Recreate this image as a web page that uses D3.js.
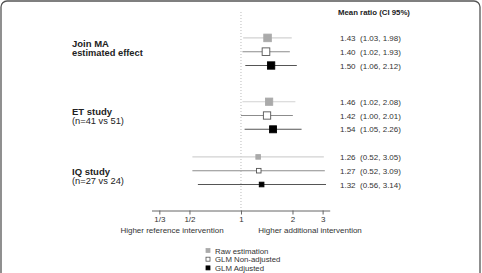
<!DOCTYPE html>
<html>
<head>
<meta charset="utf-8">
<script src="https://cdn.jsdelivr.net/npm/d3@7"></script>
<style>
  body { margin: 0; background: #fff; }
  svg text { font-family: "Liberation Sans", Arial, sans-serif; }
</style>
</head>
<body>
<div id="chart"></div>
<script>
// data
var groups = ["Join MA", "ET study", "IQ study"];
var groupSub = ["estimated effect", "(n=41 vs 51)", "(n=27 vs 24)"];
var series = ["Raw estimation", "GLM Non-adjusted", "GLM Adjusted"];
var meanRaw = [1.43, 1.46, 1.26], loRaw = [1.03, 1.02, 0.52], hiRaw = [1.98, 2.08, 3.05];
var meanNon = [1.40, 1.42, 1.27], loNon = [1.02, 1.00, 0.52], hiNon = [1.93, 2.01, 3.09];
var meanAdj = [1.50, 1.54, 1.32], loAdj = [1.06, 1.05, 0.56], hiAdj = [2.12, 2.26, 3.14];
var tickValues = [1/3, 1/2, 1, 2, 3];
var tickLabels = ["1/3", "1/2", "1", "2", "3"];

var width = 482, height = 273;

var svg = d3.select("#chart")
  .append("svg")
    .attr("width", width)
    .attr("height", height);

// frame
svg.append("rect")
  .attr("x", 1).attr("y", 1)
  .attr("width", 479).attr("height", 290)
  .attr("rx", 6)
  .attr("fill", "none")
  .attr("stroke", "#555")
  .attr("stroke-width", 1.3);

var x = d3.scaleLog().domain([0.3, 3.3]).range([151.5, 329.7]);
var yGroup = d3.scaleOrdinal().domain(groups).range([51.7, 115.5, 170.7]);
var ySeries = d3.scalePoint().domain(series).range([-13.8, 13.8]);

var style = {
  "Raw estimation":   {line: "#d2d2d2", fill: "#aaaaaa", stroke: "#aaaaaa"},
  "GLM Non-adjusted": {line: "#8c8c8c", fill: "#ffffff", stroke: "#555"},
  "GLM Adjusted":     {line: "#555555", fill: "#000000", stroke: "#000"}
};

var rows = [];
var src = [[meanRaw, loRaw, hiRaw], [meanNon, loNon, hiNon], [meanAdj, loAdj, hiAdj]];
groups.forEach(function(g, i){
  series.forEach(function(s, j){
    rows.push({group: g, key: s, mean: src[j][0][i], lo: src[j][1][i], hi: src[j][2][i]});
  });
});

// square size weighted by precision
var size = d3.scaleSqrt().domain([0, 1.55]).range([0, 7.6]);

// reference line at 1
svg.append("line")
  .attr("x1", x(1)).attr("x2", x(1))
  .attr("y1", 12).attr("y2", 210.5)
  .attr("stroke", "#bbb")
  .attr("stroke-dasharray", "1,2");

// x axis
var axis = svg.append("g")
  .attr("transform", "translate(0,210.5)")
  .call(d3.axisBottom(x)
    .tickValues(tickValues)
    .tickFormat(function(d, i){ return tickLabels[i]; })
    .tickSize(4)
    .tickSizeOuter(0));
axis.select(".domain").attr("stroke", "#666");
axis.selectAll(".tick line").attr("stroke", "#666");
axis.selectAll(".tick text")
  .attr("fill", "#333")
  .attr("font-size", "8px")
  .attr("font-family", "Liberation Sans, Arial, sans-serif")
  .attr("dy", "0.55em");

svg.append("text")
  .attr("x", 172).attr("y", 232.5)
  .attr("text-anchor", "middle")
  .attr("font-size", "8px").attr("fill", "#333")
  .text("Higher reference intervention");
svg.append("text")
  .attr("x", 310).attr("y", 232.5)
  .attr("text-anchor", "middle")
  .attr("font-size", "8px").attr("fill", "#333")
  .text("Higher additional intervention");

// CI lines
svg.append("g").selectAll("line")
  .data(rows).enter().append("line")
    .attr("x1", function(d){ return x(d.lo); })
    .attr("x2", function(d){ return x(d.hi); })
    .attr("y1", function(d){ return yGroup(d.group) + ySeries(d.key); })
    .attr("y2", function(d){ return yGroup(d.group) + ySeries(d.key); })
    .attr("stroke", function(d){ return style[d.key].line; })
    .attr("stroke-width", 1.1);

// squares
svg.append("g").selectAll("rect")
  .data(rows).enter().append("rect")
    .attr("x", function(d){ return x(d.mean) - s(d) / 2; })
    .attr("y", function(d){ return yGroup(d.group) + ySeries(d.key) - s(d) / 2; })
    .attr("width", function(d){ return s(d); })
    .attr("height", function(d){ return s(d); })
    .attr("fill", function(d){ return style[d.key].fill; })
    .attr("stroke", function(d){ return style[d.key].stroke; })
    .attr("stroke-width", 0.9);

function s(d){ return size(1 / Math.log(d.hi / d.lo)); }

// value text
svg.append("text")
  .attr("x", 338).attr("y", 14.5)
  .attr("font-size", "7.8px").attr("font-weight", "bold").attr("fill", "#222")
  .text("Mean ratio (CI 95%)");

svg.append("g").selectAll("text")
  .data(rows).enter().append("text")
    .attr("x", 340)
    .attr("y", function(d){ return yGroup(d.group) + ySeries(d.key) + 3; })
    .attr("font-size", "8px").attr("fill", "#333")
    .attr("xml:space", "preserve")
    .text(function(d){
      return d.mean.toFixed(2) + "  (" + d.lo.toFixed(2) + ", " + d.hi.toFixed(2) + ")";
    });

// group labels
var labelY = d3.scaleOrdinal().domain(groups).range([47, 115.3, 174.7]);
groups.forEach(function(g, i){
  svg.append("text")
    .attr("x", 72).attr("y", labelY(g))
    .attr("font-size", "9.5px").attr("font-weight", "bold").attr("fill", "#222")
    .text(g);
  svg.append("text")
    .attr("x", 72).attr("y", labelY(g) + 9)
    .attr("font-size", "9.3px").attr("fill", "#222")
    .attr("font-weight", i === 0 ? "bold" : "normal")
    .text(groupSub[i]);
});

// legend
var legend = svg.append("g").selectAll("g")
  .data(series).enter().append("g")
    .attr("transform", function(d, i){ return "translate(208," + (250.5 + i * 8.7) + ")"; });
legend.append("rect")
  .attr("x", -2).attr("y", -2)
  .attr("width", 4).attr("height", 4)
  .attr("fill", function(d){ return style[d].fill; })
  .attr("stroke", function(d){ return style[d].stroke; })
  .attr("stroke-width", 0.8);
legend.append("text")
  .attr("x", 7).attr("y", 3)
  .attr("font-size", "7.8px").attr("fill", "#333")
  .text(function(d){ return d; });
</script>
</body>
</html>
